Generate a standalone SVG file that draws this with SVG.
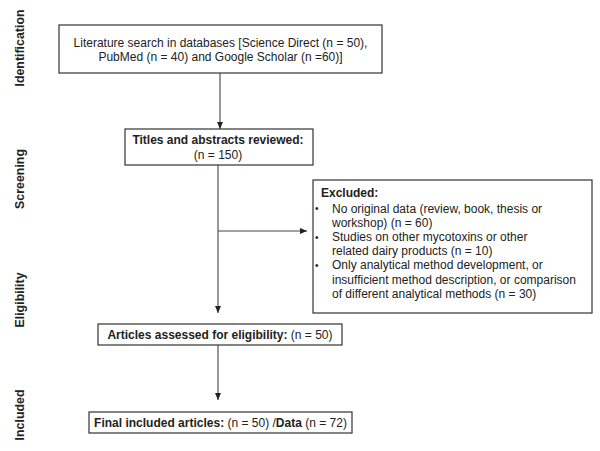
<svg xmlns="http://www.w3.org/2000/svg" width="600" height="451" viewBox="0 0 600 451">
<defs>
<style>
text{font-family:"Liberation Sans",Arial,sans-serif;font-size:12px;fill:#222}
.b{font-weight:bold}
.side{font-weight:bold;font-size:12.4px;text-anchor:middle}
.box{fill:#fff;stroke:#333;stroke-width:1.2}
.c{fill:none;stroke:#444;stroke-width:1.1}
.m{text-anchor:middle}
.bul{font-size:10px}
</style>
<marker id="ah" markerUnits="userSpaceOnUse" markerWidth="8" markerHeight="8" viewBox="0 0 8 8" refX="7" refY="4" orient="auto">
<path d="M0,1 L7,4 L0,7 Z" fill="#222"/>
</marker>
</defs>
<rect width="600" height="451" fill="#fff"/>
<g id="side-labels">
<text class="side" transform="translate(24,48) rotate(-90)">Identification</text>
<text class="side" transform="translate(24,179) rotate(-90)">Screening</text>
<text class="side" transform="translate(24,300) rotate(-90)">Eligibility</text>
<text class="side" transform="translate(24,415) rotate(-90)">Included</text>
</g>
<g id="connectors">
<line class="c" x1="220" y1="73" x2="220" y2="129" marker-end="url(#ah)"/>
<line class="c" x1="218" y1="165" x2="218" y2="313" marker-end="url(#ah)"/>
<line class="c" x1="218" y1="231" x2="307" y2="231" marker-end="url(#ah)"/>
<line class="c" x1="218" y1="345" x2="218" y2="400" marker-end="url(#ah)"/>
</g>
<g id="search">
<rect class="box" x="59" y="25" width="323" height="48"/>
<text class="m" x="220.5" y="47">Literature search in databases [Science Direct (n = 50),</text>
<text class="m" x="220.5" y="61">PubMed (n = 40) and Google Scholar (n =60)]</text>
</g>
<g id="screening">
<rect class="box" x="125" y="129" width="188" height="36"/>
<text class="m b" x="218" y="144">Titles and abstracts reviewed:</text>
<text class="m" x="218" y="159">(n = 150)</text>
</g>
<g id="excluded">
<rect class="box" x="313" y="180" width="279" height="133"/>
<text class="b" x="321" y="197">Excluded:</text>
<text class="bul" x="315" y="212">•</text>
<text x="332" y="212.5">No original data (review, book, thesis or</text>
<text x="332" y="226.7">workshop) (n = 60)</text>
<text class="bul" x="315" y="240.5">•</text>
<text x="332" y="240.9">Studies on other mycotoxins or other</text>
<text x="332" y="255.1">related dairy products (n = 10)</text>
<text class="bul" x="315" y="269">•</text>
<text x="332" y="269.3">Only analytical method development, or</text>
<text x="332" y="283.5">insufficient method description, or comparison</text>
<text x="332" y="297.7">of different analytical methods (n = 30)</text>
</g>
<g id="eligibility">
<rect class="box" x="98" y="324" width="244" height="21"/>
<text class="m" x="220" y="339"><tspan class="b">Articles assessed for eligibility:</tspan> (n = 50)</text>
</g>
<g id="included">
<rect class="box" x="89" y="412" width="263" height="21"/>
<text class="m" x="220.5" y="427"><tspan class="b">Final included articles:</tspan> (n = 50) /<tspan class="b">Data</tspan> (n = 72)</text>
</g>
</svg>
